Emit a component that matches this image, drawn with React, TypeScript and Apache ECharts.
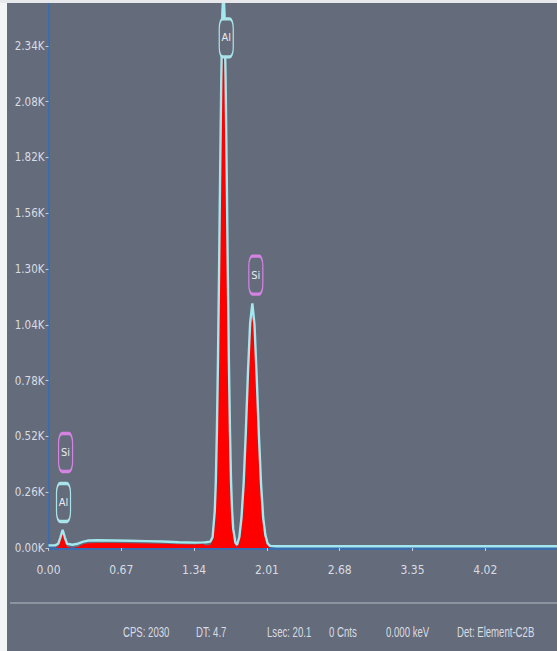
import React, { useEffect, useRef } from "react";
import * as echarts from "echarts";

// Energy grid (keV) shared by both traces
const energyKeV = [
  0.0, 0.06, 0.09, 0.11, 0.13, 0.15, 0.17,
  0.22, 0.27, 0.32, 0.37, 0.45,
  0.6, 0.75, 0.9, 1.05, 1.2,
  1.35, 1.42, 1.45, 1.49, 1.51,
  1.53, 1.54, 1.55, 1.56, 1.57,
  1.58, 1.59, 1.6, 1.61, 1.62,
  1.63, 1.64, 1.65, 1.66, 1.67,
  1.68, 1.69, 1.7, 1.72, 1.736,
  1.756, 1.776, 1.796, 1.816, 1.836,
  1.856, 1.876, 1.896, 1.916, 1.936,
  1.956, 1.976, 1.996, 2.016, 2.04,
  2.1, 2.5, 3.0, 3.5, 4.0,
  4.68,
];
// Measured spectrum (cyan outline), thousands of counts
const spectrumK = [
  0.012, 0.012, 0.02, 0.05, 0.085, 0.05, 0.02,
  0.015, 0.02, 0.03, 0.035, 0.036,
  0.035, 0.034, 0.032, 0.03, 0.027,
  0.025, 0.026, 0.027, 0.03, 0.05,
  0.17, 0.31, 0.55, 0.88, 1.3,
  1.76, 2.18, 2.49, 2.6, 2.49,
  2.18, 1.76, 1.3, 0.88, 0.55,
  0.31, 0.17, 0.09, 0.025, 0.015,
  0.05, 0.14, 0.3, 0.54, 0.82,
  1.05, 1.14, 1.04, 0.8, 0.53,
  0.3, 0.14, 0.06, 0.022, 0.01,
  0.008, 0.008, 0.008, 0.008, 0.008,
  0.008,
];
// Fitted / filled trace (red area), thousands of counts
const fitK = [
  0, 0, 0.005, 0.04, 0.075, 0.04, 0.005,
  0, 0.005, 0.018, 0.022, 0.023,
  0.023, 0.022, 0.021, 0.02, 0.018,
  0.016, 0.02, 0.012, 0.015, 0.035,
  0.15, 0.29, 0.53, 0.85, 1.26,
  1.71, 2.13, 2.44, 2.56, 2.44,
  2.13, 1.71, 1.26, 0.85, 0.53,
  0.29, 0.15, 0.07, 0.01, 0.004,
  0.04, 0.12, 0.28, 0.51, 0.78,
  1.0, 1.08, 0.99, 0.76, 0.5,
  0.28, 0.12, 0.045, 0.01, 0,
  0, 0, 0, 0, 0,
  0,
];

const xMax = 4.68;
const xStep = 0.67;
const yMaxK = 2.535;
const yStepK = 0.26;

// Element markers
const markerNames = ["Al", "Si", "Al", "Si"];
const markerKeV = [1.636, 1.908, 0.138, 0.157];
const markerK = [2.377, 1.272, 0.212, 0.445];
const markerColors = ["#a9e4ea", "#d483e2", "#a9e4ea", "#d483e2"];

// Status bar
const statusTexts = ["CPS: 2030", "DT: 4.7", "Lsec: 20.1", "0 Cnts", "0.000 keV", "Det: Element-C2B"];
const statusX = [123, 196, 267, 329, 386, 457];

const FONT = "'DejaVu Sans Condensed', 'Liberation Sans', sans-serif";
const TEXT = "#d9dce2";

export default function App() {
  const ref = useRef<HTMLDivElement>(null);
  useEffect(() => {
    if (!ref.current) return;
    const chart = echarts.init(ref.current, undefined, { renderer: "svg" });
    const spec = energyKeV.map((e, i) => [e, spectrumK[i]]);
    const fit = energyKeV.map((e, i) => [e, fitK[i]]);
    chart.setOption({
      animation: false,
      backgroundColor: "#646b7b",
      grid: { left: 48.5, right: 0, top: 4, bottom: 103, containLabel: false },
      xAxis: {
        type: "value",
        min: 0,
        max: xMax,
        interval: xStep,
        axisLine: { lineStyle: { color: "#3b6cae", width: 3 } },
        axisTick: { show: true, length: 3, lineStyle: { color: "#c8ccd4" } },
        splitLine: { show: false },
        axisLabel: {
          showMaxLabel: false,
          margin: 16,
          color: TEXT,
          fontSize: 12,
          fontFamily: FONT,
          formatter: (v: number) => v.toFixed(2),
        },
      },
      yAxis: {
        type: "value",
        min: 0,
        max: yMaxK,
        interval: yStepK,
        axisLine: { show: true, lineStyle: { color: "#3b6cae", width: 2 } },
        axisTick: { show: true, length: 3, lineStyle: { color: "#c8ccd4" } },
        splitLine: { show: false },
        axisLabel: {
          showMaxLabel: false,
          margin: 4,
          color: TEXT,
          fontSize: 11.5,
          fontFamily: FONT,
          formatter: (v: number) => v.toFixed(2) + "K",
        },
      },
      series: [
        {
          type: "line",
          data: fit,
          symbol: "none",
          lineStyle: { width: 0 },
          areaStyle: { color: "#ff0000", opacity: 1 },
          z: 2,
        },
        {
          type: "line",
          data: spec,
          symbol: "none",
          lineStyle: { color: "#a2e8ee", width: 2.4 },
          z: 3,
          markPoint: {
            data: markerNames.map((n, i) => ({
              name: n,
              coord: [markerKeV[i], markerK[i]],
              symbol: "roundRect",
              symbolSize: [14, 38],
              itemStyle: { color: "#646b7b", borderColor: markerColors[i], borderWidth: 2 },
              label: {
                show: true,
                formatter: n,
                color: "#e8eaee",
                fontSize: 11,
                fontFamily: FONT,
              },
            })),
          },
        },
      ],
      graphic: [
        { type: "rect", shape: { x: 0, y: 0, width: 7, height: 651 }, style: { fill: "#f3f4f6" }, z: 100 },
        { type: "rect", shape: { x: 0, y: 0, width: 557, height: 3 }, style: { fill: "#e6e8ec" }, z: 100 },
        {
          type: "line",
          shape: { x1: 10, y1: 603, x2: 557, y2: 603 },
          style: { stroke: "#8d939f", lineWidth: 2 },
          z: 100,
        },
        ...statusTexts.map((t, i) => ({
          type: "text",
          x: statusX[i],
          y: 632,
          scaleX: 0.64,
          style: {
            text: t,
            fill: TEXT,
            fontSize: 15,
            fontFamily: "'Liberation Sans', sans-serif",
            verticalAlign: "middle",
          },
          z: 100,
        })),
      ],
    });
    return () => chart.dispose();
  }, []);
  return (
    <div
      ref={ref}
      style={{ position: "fixed", left: 0, top: 0, width: 557, height: 651 }}
    />
  );
}
